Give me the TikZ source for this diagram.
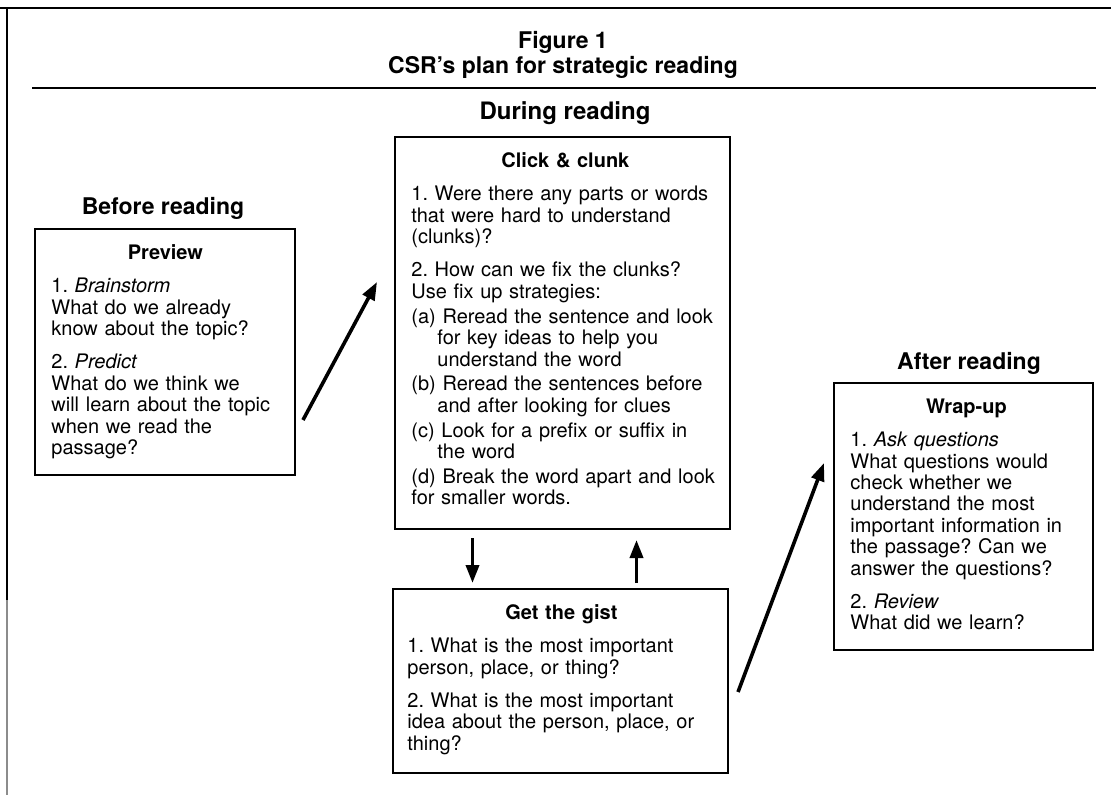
\documentclass[tikz,border=0pt]{standalone}
\usepackage{fontspec}
\setmainfont{TeX Gyre Heros}
\usetikzlibrary{arrows.meta,positioning}
\newcommand{\bodyfont}{\fontsize{10}{10.7}\selectfont\frenchspacing}
\newcommand{\boxhead}[1]{{\centering\bfseries\strut #1\par}\vspace{6pt}}
\newcommand{\itemgap}{\par\vspace{6pt}}
\newcommand{\subgap}{\par\vspace{1.75pt}}
\newcommand{\hangitem}{\hangindent=13pt\hangafter=1 }

\begin{document}
\begin{tikzpicture}[x=0.5pt, y=-0.5pt,
    box/.style={draw, line width=1pt, inner sep=0pt},
    txt/.style={anchor=north west, inner sep=0pt, text width=#1, align=left, font=\bodyfont},
    phase/.style={font=\fontsize{11.5}{13}\selectfont\bfseries},
    arr/.style={-{Triangle[length=9pt,width=6.5pt]}, line width=1.8pt}]
    \useasboundingbox (0, 0) rectangle (1111, 795);
    \draw[line width=1.3pt] (0, 8) -- (1111, 8);
    \draw[line width=0.8pt] (7, 8) -- (7, 600);
    \draw[line width=0.8pt, black!45] (7, 600) -- (7, 795);
    \draw[line width=0.8pt] (32, 88) -- (1096, 88);
    \node[align=center, font=\fontsize{11.5}{12.5}\selectfont\bfseries] at (563, 55)(title){Figure 1\\CSR's plan for strategic reading};

    \node[phase] at (163, 208)(before){Before reading};
    \node[phase, font=\fontsize{12}{13}\selectfont\bfseries] at (565, 113)(during){During reading};
    \node[phase] at (969, 363)(after){After reading};

    \node[box, minimum width=130pt, minimum height=123pt] at (165, 352)(preview){};
    \node[box, minimum width=167.5pt, minimum height=196pt] at (562.5, 333)(click){};
    \node[box, minimum width=167.5pt, minimum height=92pt] at (560.5, 681)(gist){};
    \node[box, minimum width=129.5pt, minimum height=133.5pt] at (963.5, 516.5)(wrap){};

    \node[txt=114pt] at ([xshift=8.5pt, yshift=-8pt]preview.north west)(previewtext){%
        \boxhead{Preview}
        1. \textit{Brainstorm}\newline What do we already\newline know about the topic?\itemgap
        2. \textit{Predict}\newline What do we think we\newline will learn about the topic\newline when we read the\newline passage?};
    \node[txt=154pt] at ([xshift=8.5pt, yshift=-8pt]click.north west)(clicktext){%
        \boxhead{Click \& clunk}
        1. Were there any parts or words\newline that were hard to understand\newline (clunks)?\itemgap
        2. How can we fix the clunks?\newline Use fix up strategies:\subgap
        \hangitem (a) Reread the sentence and look\newline for key ideas to help you\newline understand the word\subgap
        \hangitem (b) Reread the sentences before\newline and after looking for clues\subgap
        \hangitem (c) Look for a prefix or suffix in\newline the word\subgap
        \hangitem (d) Break the word apart and look\newline for smaller words.};
    \node[txt=154pt] at ([xshift=7.5pt, yshift=-8pt]gist.north west)(gisttext){%
        \boxhead{Get the gist}
        1. What is the most important\newline person, place, or thing?\itemgap
        2. What is the most important\newline idea about the person, place, or\newline thing?};
    \node[txt=116pt] at ([xshift=8.5pt, yshift=-8pt]wrap.north west)(wraptext){%
        \boxhead{Wrap-up}
        1. \textit{Ask questions}\newline What questions would\newline check whether we\newline understand the most\newline important information in\newline the passage? Can we\newline answer the questions?\itemgap
        2. \textit{Review}\newline What did we learn?};

    \path[arr]
        ([xshift=3.5pt, yshift=-34pt]preview.east) edge ([xshift=-8.5pt, yshift=25.5pt]click.west)
        ([xshift=-45pt, yshift=-4pt]click.south) edge ([xshift=-44pt, yshift=2.5pt]gist.north)
        ([xshift=38pt, yshift=2.5pt]gist.north) edge ([xshift=37pt, yshift=-5pt]click.south)
        ([xshift=4.5pt, yshift=-5.5pt]gist.east) edge ([xshift=-4.5pt, yshift=26.75pt]wrap.west)
        ;
\end{tikzpicture}
\end{document}
